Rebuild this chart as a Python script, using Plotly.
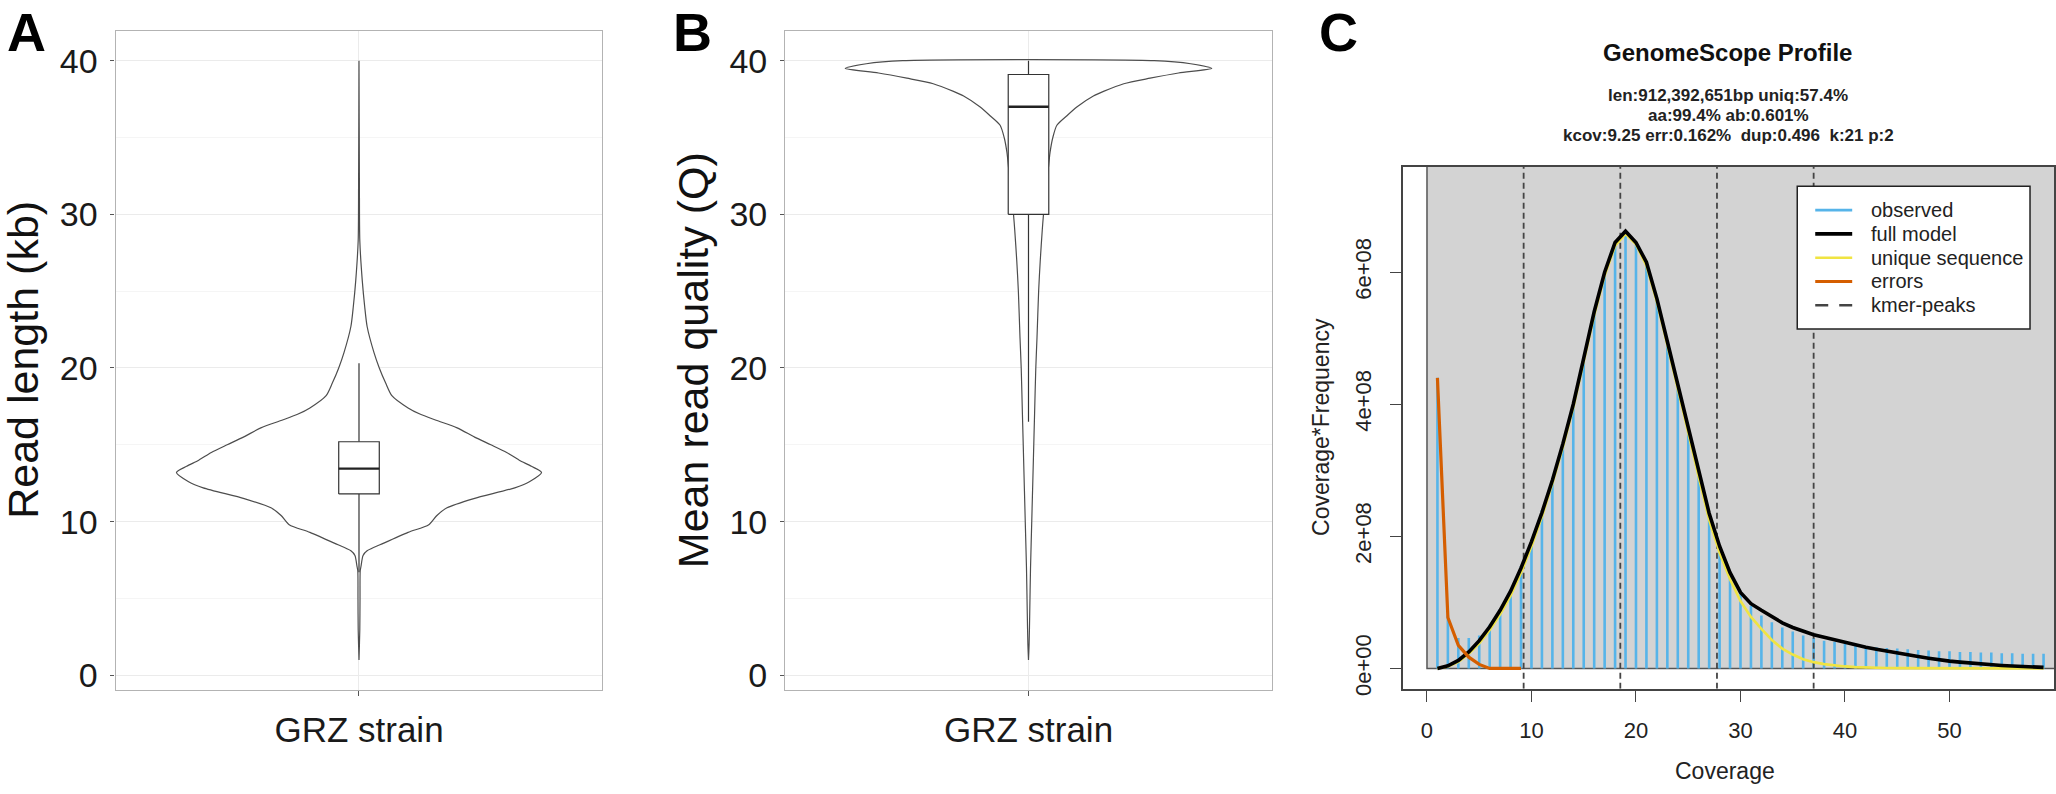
import plotly.graph_objects as go

W, H = 2056, 794
FONT = "Liberation Sans, Arial, Helvetica, sans-serif"

# ---------------- Panel A: read length (kb) violin outline + box stats ----------------
len_violin_y = [1.0, 3.0, 5.0, 6.8, 7.1, 7.8, 8.1, 8.6, 9.3, 9.8, 10.4, 10.9, 11.5, 12.2,
                12.6, 13.2, 13.6, 14.0, 14.5, 15.0, 15.5, 16.1, 16.6, 17.0, 17.4, 18.2,
                19.0, 20.0, 21.0, 22.7, 24.0, 25.7, 28.3, 32.0, 40.0]
len_violin_hw = [0.0, 0.002, 0.0025, 0.003, 0.005, 0.01, 0.02, 0.061, 0.121, 0.172, 0.192,
                 0.217, 0.283, 0.384, 0.42, 0.45, 0.425, 0.395, 0.364, 0.325, 0.285, 0.242,
                 0.19, 0.15, 0.121, 0.081, 0.066, 0.05, 0.037, 0.02, 0.014, 0.008, 0.002,
                 0.001, 0.0]
len_box = dict(q1=11.8, median=13.45, q3=15.2, lower=6.7, upper=20.3)

# ---------------- Panel B: mean read quality violin outline + box stats ----------------
qual_violin_y = [1.0, 2.0, 4.0, 7.0, 10.0, 14.0, 17.0, 20.0, 22.0, 25.0, 27.0, 29.0, 30.0,
                 31.0, 32.0, 33.0, 34.0, 35.0, 35.8, 36.4, 37.0, 37.7, 38.0, 38.5, 38.86,
                 39.2, 39.5, 39.8, 40.0]
qual_violin_hw = [0.0, 0.0015, 0.003, 0.005, 0.008, 0.012, 0.015, 0.018, 0.021, 0.025, 0.029,
                  0.034, 0.037, 0.041, 0.045, 0.049, 0.053, 0.06, 0.07, 0.094, 0.12, 0.16,
                  0.185, 0.235, 0.30, 0.37, 0.452, 0.40, 0.31]
qual_box = dict(q1=30.0, median=37.0, q3=39.1, lower=16.5, upper=40.0)

category = "GRZ strain"

# ---------------- Panel C: GenomeScope profile (values in units of 1e8) ----------------
coverage = list(range(1, 60))
observed = [4.4, 0.8, 0.46, 0.46, 0.5, 0.66, 0.9, 1.2, 1.55, 1.95, 2.4, 2.88, 3.4, 4.0, 4.65,
            5.35, 5.95, 6.4, 6.6, 6.45, 6.15, 5.6, 4.95, 4.3, 3.62, 2.95, 2.35, 1.85, 1.45,
            1.15, 0.95, 0.8, 0.7, 0.62, 0.56, 0.5, 0.46, 0.42, 0.40, 0.37, 0.35, 0.34, 0.32,
            0.31, 0.30, 0.29, 0.28, 0.27, 0.26, 0.26, 0.25, 0.25, 0.24, 0.24, 0.23, 0.23,
            0.22, 0.22, 0.22]
full_model = [0.0, 0.04, 0.12, 0.25, 0.42, 0.63, 0.88, 1.17, 1.52, 1.92, 2.36, 2.85, 3.4,
              4.0, 4.7, 5.4, 6.0, 6.45, 6.62, 6.45, 6.15, 5.6, 4.95, 4.3, 3.62, 2.95, 2.35,
              1.85, 1.45, 1.15, 0.98, 0.88, 0.78, 0.69, 0.62, 0.56, 0.51, 0.47, 0.43, 0.39,
              0.36, 0.32, 0.29, 0.26, 0.23, 0.205, 0.18, 0.155, 0.13, 0.11, 0.095, 0.08,
              0.068, 0.056, 0.045, 0.036, 0.028, 0.021, 0.015]
unique_seq = [0.0, 0.03, 0.1, 0.22, 0.38, 0.58, 0.82, 1.1, 1.45, 1.85, 2.3, 2.8, 3.35,
              3.95, 4.65, 5.35, 5.95, 6.4, 6.58, 6.42, 6.1, 5.55, 4.9, 4.25, 3.57, 2.9, 2.25,
              1.75, 1.35, 1.02, 0.78, 0.6, 0.43, 0.3, 0.21, 0.14, 0.095, 0.065, 0.045, 0.03,
              0.02, 0.013, 0.009, 0.006, 0.004, 0.003, 0.002, 0.002, 0.001, 0.001, 0.001,
              0.0, 0.0, 0.0, 0.0, 0.0, 0.0, 0.0, 0.0]
err_cov = [1, 2, 3, 4, 5, 6, 7, 8, 9]
errors = [4.4, 0.77, 0.35, 0.17, 0.06, 0.0, 0.0, 0.0, 0.0]
kmer_peaks = [9.25, 18.5, 27.75, 37.0]
SCALE = 1e8

c_title = "GenomeScope Profile"
c_sub = ["len:912,392,651bp uniq:57.4%",
         "aa:99.4% ab:0.601%",
         "kcov:9.25 err:0.162%\u00a0 dup:0.496\u00a0 k:21 p:2"]
x_ticks_c = [0, 10, 20, 30, 40, 50]
y_ticks_c = [0, 2e8, 4e8, 6e8]
y_ticktext_c = ["0e+00", "2e+08", "4e+08", "6e+08"]
legend_names = ["observed", "full model", "unique sequence", "errors", "kmer-peaks"]
legend_colors = ["#56B4E9", "black", "#F0E442", "#D55E00", "#444444"]
legend_widths = [2.6, 3.6, 2.6, 3.2, 2.6]
legend_dash = ["solid", "solid", "solid", "solid", "dash"]

C_XRANGE = [-2.33, 60.0]
C_YRANGE = [-0.31e8, 7.6e8]
BOX_HALF = 0.05


def px(x):
    return x / W


def py(y):
    return 1 - y / H


fig = go.Figure()

# ---------------- violins + boxes ----------------
def add_violin(vy, vhw, box, xa, ya):
    xs = [1 - w for w in vhw] + [1 + w for w in reversed(vhw)]
    ys = list(vy) + list(reversed(vy))
    xs.append(xs[0]); ys.append(ys[0])
    common = dict(hoverinfo="skip", showlegend=False, xaxis=xa, yaxis=ya)
    fig.add_trace(go.Scatter(x=xs, y=ys, mode="lines", fill="toself", fillcolor="white",
                             line=dict(color="#4D4D4D", width=1.2, shape="spline",
                                       smoothing=0.7), **common))
    # whiskers
    fig.add_trace(go.Scatter(x=[1, 1, None, 1, 1],
                             y=[box["lower"], box["q1"], None, box["q3"], box["upper"]],
                             mode="lines", line=dict(color="#333333", width=1.2), **common))
    # box body
    fig.add_trace(go.Scatter(x=[1 - BOX_HALF, 1 + BOX_HALF, 1 + BOX_HALF, 1 - BOX_HALF,
                                1 - BOX_HALF],
                             y=[box["q1"], box["q1"], box["q3"], box["q3"], box["q1"]],
                             mode="lines", fill="toself", fillcolor="white",
                             line=dict(color="#333333", width=1.2), **common))
    # median
    fig.add_trace(go.Scatter(x=[1 - BOX_HALF, 1 + BOX_HALF], y=[box["median"]] * 2,
                             mode="lines", line=dict(color="#222222", width=2.4), **common))


add_violin(len_violin_y, len_violin_hw, len_box, "x", "y")
add_violin(qual_violin_y, qual_violin_hw, qual_box, "x2", "y2")

# ---------------- GenomeScope ----------------
obs_x, obs_y = [], []
for c, v in zip(coverage, observed):
    obs_x += [c, c, None]
    obs_y += [0, v * SCALE, None]
fig.add_trace(go.Scatter(x=obs_x, y=obs_y, mode="lines", name="observed",
                         line=dict(color=legend_colors[0], width=2.6),
                         xaxis="x3", yaxis="y3", hoverinfo="skip", showlegend=False))

pk_x, pk_y = [], []
for p in kmer_peaks:
    pk_x += [p, p, None]
    pk_y += [C_YRANGE[0], C_YRANGE[1], None]
fig.add_trace(go.Scatter(x=pk_x, y=pk_y, mode="lines", name="kmer-peaks",
                         line=dict(color=legend_colors[4], width=1.8, dash="6px,4px"),
                         xaxis="x3", yaxis="y3", hoverinfo="skip", showlegend=False))

fig.add_trace(go.Scatter(x=coverage, y=[v * SCALE for v in unique_seq], mode="lines",
                         name="unique sequence", line=dict(color=legend_colors[2], width=2.6),
                         xaxis="x3", yaxis="y3", hoverinfo="skip", showlegend=False))
fig.add_trace(go.Scatter(x=coverage, y=[v * SCALE for v in full_model], mode="lines",
                         name="full model", line=dict(color=legend_colors[1], width=3.6),
                         xaxis="x3", yaxis="y3", hoverinfo="skip", showlegend=False))
fig.add_trace(go.Scatter(x=err_cov, y=[v * SCALE for v in errors], mode="lines",
                         name="errors", line=dict(color=legend_colors[3], width=3.2),
                         xaxis="x3", yaxis="y3", hoverinfo="skip", showlegend=False))

# ---------------- axes ----------------
AB_Y = [py(696), py(31)]
grid_major = "#EBEBEB"
grid_minor = "#F5F5F5"
frame_col = "#B3B3B3"

def ab_axes(xdom):
    xa = dict(domain=xdom, range=[0.4, 1.6], tickvals=[1], ticktext=[category],
              showgrid=True, gridcolor=grid_major, gridwidth=1.2, zeroline=False,
              showline=True, mirror=True, linecolor=frame_col, linewidth=1.4,
              ticks="outside", ticklen=5, tickcolor="#555555", tickwidth=1,
              ticklabelstandoff=4,
              tickfont=dict(family=FONT, size=35, color="#1A1A1A"), fixedrange=True)
    ya = dict(domain=AB_Y, range=[-0.95, 41.95], tickvals=[0, 10, 20, 30, 40],
              showgrid=True, gridcolor=grid_major, gridwidth=1.2, zeroline=False,
              minor=dict(tickvals=[5, 15, 25, 35], showgrid=True, gridcolor=grid_minor,
                         gridwidth=1, ticks=""),
              showline=True, mirror=True, linecolor=frame_col, linewidth=1.4,
              ticks="outside", ticklen=4, tickcolor="#555555", tickwidth=1,
              ticklabelstandoff=6,
              tickfont=dict(family=FONT, size=34, color="#1A1A1A"), fixedrange=True)
    return xa, ya

xa1, ya1 = ab_axes([px(115.7), px(603)])
xa2, ya2 = ab_axes([px(786), px(1273)])

xa3 = dict(domain=[px(1404), 1.0], range=C_XRANGE, tickvals=x_ticks_c,
           showgrid=False, zeroline=False, showline=True, mirror=True,
           linecolor="#444444", linewidth=1.6, ticks="outside", ticklen=11,
           tickcolor="#444444", tickwidth=1.4, ticklabelstandoff=10,
           tickfont=dict(family=FONT, size=22, color="#222222"), fixedrange=True)
ya3 = dict(domain=[py(695), py(168)], range=C_YRANGE, tickvals=y_ticks_c,
           ticktext=y_ticktext_c, tickangle=-90, showgrid=False, zeroline=False,
           showline=True, mirror=True, linecolor="#444444", linewidth=1.6,
           ticks="outside", ticklen=11, tickcolor="#444444", tickwidth=1.4,
           ticklabelstandoff=10,
           tickfont=dict(family=FONT, size=22, color="#222222"), fixedrange=True)

fig.update_layout(
    width=W, height=H, margin=dict(l=0, r=0, t=0, b=0),
    paper_bgcolor="white", plot_bgcolor="white",
    font=dict(family=FONT, color="black"),
    xaxis=dict(**xa1, anchor="y"), yaxis=dict(**ya1, anchor="x"),
    xaxis2=dict(**xa2, anchor="y2"), yaxis2=dict(**ya2, anchor="x2"),
    xaxis3=dict(**xa3, anchor="y3"), yaxis3=dict(**ya3, anchor="x3"),
    showlegend=False,
)

# GenomeScope background rectangle and legend box
fig.add_shape(type="rect", xref="x3", yref="y3", x0=0, x1=C_XRANGE[1] + 5,
              y0=0, y1=C_YRANGE[1] * 1.2, fillcolor="#D3D3D3",
              line=dict(color="#555555", width=1.5), layer="below")
fig.add_shape(type="rect", xref="paper", yref="paper", x0=px(1799), x1=px(2032),
              y0=py(332), y1=py(188), fillcolor="white",
              line=dict(color="#222222", width=1.5), layer="above")

# legend entries (manual, to match R legend spacing)
for i, (nm, col, lw, ds) in enumerate(zip(legend_names, legend_colors, legend_widths,
                                          legend_dash)):
    yy = 212 + 24 * i
    fig.add_shape(type="line", xref="paper", yref="paper", x0=px(1817), x1=px(1854),
                  y0=py(yy), y1=py(yy), line=dict(color=col, width=lw,
                  dash="13px,11px" if ds == "dash" else "solid"), layer="above")
    fig.add_annotation(x=px(1871), y=py(yy), xref="paper", yref="paper", showarrow=False,
                       text=nm, xanchor="left", yanchor="middle",
                       font=dict(family=FONT, size=20, color="#222222"))

# ---------------- text ----------------
def ann(x, y, text, size, bold=False, angle=0, color="black", yanchor="middle"):
    fig.add_annotation(x=px(x), y=py(y), xref="paper", yref="paper", showarrow=False,
                       text=f"<b>{text}</b>" if bold else text, textangle=angle,
                       xanchor="center", yanchor=yanchor,
                       font=dict(family=FONT, size=size, color=color))

ann(27, 0, "A", 54, bold=True, yanchor="top")
ann(693, 0, "B", 54, bold=True, yanchor="top")
ann(1340, 0, "C", 54, bold=True, yanchor="top")

ann(23, 363, "Read length (kb)", 43, angle=-90, color="#111111")
ann(693, 363, "Mean read quality (Q)", 43, angle=-90, color="#111111")

ann(1729, 53, c_title, 24, bold=True, color="#111111")
for yy, line in zip([96, 117, 137], c_sub):
    ann(1730, yy, line, 17, bold=True, color="#222222")
ann(1322, 431, "Coverage*Frequency", 23, angle=-90, color="#222222")
ann(1727, 778, "Coverage", 23, color="#222222")

fig.write_html("out.html")
